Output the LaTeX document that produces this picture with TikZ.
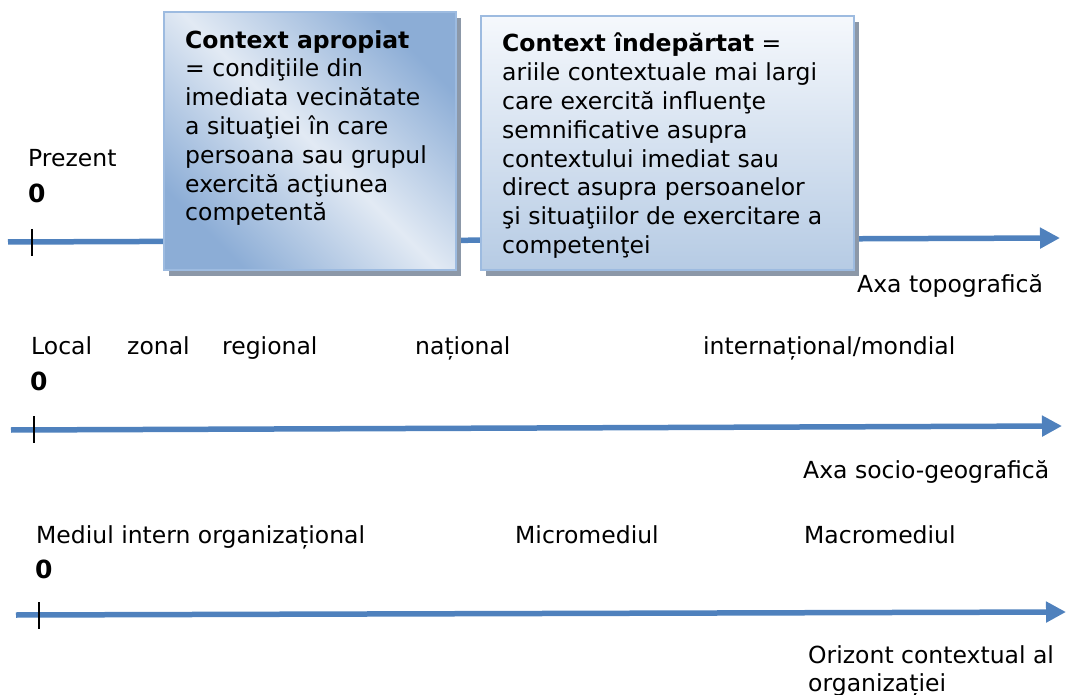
\documentclass[tikz,border=0pt]{standalone}
\usepackage{fontspec}
\setmainfont{DejaVu Sans}
\usepackage{xcolor}
\usetikzlibrary{arrows.meta,positioning,shadows}

\definecolor{axisblue}{HTML}{4F81BD}
\definecolor{boxedge}{HTML}{9DBBE0}
\definecolor{boxdark}{HTML}{8CADD6}
\definecolor{boxlight}{HTML}{E2EAF4}
\definecolor{boxtop}{HTML}{F5F8FC}
\definecolor{boxbottom}{HTML}{B6CBE4}
\definecolor{shadowgray}{HTML}{8C98A8}

\tikzset{
  axis/.style={line width=5.5pt, draw=axisblue, -{Triangle[length=20pt,width=20pt]}},
  zerotick/.style={line width=1.6pt, black},
  lbl/.style={anchor=base west, inner sep=0pt, font=\fontsize{23.5}{28.8}\selectfont},
  zero/.style={anchor=base west, inner sep=0pt, font=\fontsize{25}{30}\selectfont\bfseries},
  ctxbox/.style={draw=boxedge, line width=2pt, anchor=north west, inner sep=0pt,
    drop shadow={shadow xshift=5pt, shadow yshift=-6pt, fill=shadowgray, opacity=1}},
  boxtext/.style={anchor=north west, inner sep=0pt, align=left,
    font=\fontsize{23.5}{28.8}\selectfont}
}

\begin{document}
\begin{tikzpicture}[x=1pt,y=-1pt]
  \useasboundingbox (0,0) rectangle (1066,695);

  % Axa topografica
  \coordinate (t0) at (8,242);
  \coordinate (t1) at (1060,238);
  \draw[axis] (t0) -- (t1);
  \draw[zerotick] (32,229) -- (32,256);
  \node[lbl] (prezent) at (28,167) {Prezent};
  \node[zero] (zeroA) at (28,203) {0};
  \node[lbl] (axaA) at (857,292) {Axa topografică};

  % context boxes
  \node[ctxbox, minimum width=292pt, minimum height=258pt,
        left color=boxdark, right color=boxdark, middle color=boxlight,
        shading angle=-45] (near) at (163,11) {};
  \node[boxtext] (neartext) at (185,30)
    {\textbf{Context apropiat}\\= condiţiile din\\imediata vecinătate\\a situaţiei în care\\persoana sau grupul\\exercită acţiunea\\competentă};
  \node[ctxbox, minimum width=373pt, minimum height=254pt,
        top color=boxtop, bottom color=boxbottom] (far) at (480,15) {};
  \node[boxtext] (fartext) at (502,33)
    {\textbf{Context îndepărtat} =\\ariile contextuale mai largi\\care exercită influenţe\\semnificative asupra\\contextului imediat sau\\direct asupra persoanelor\\şi situaţiilor de exercitare a\\competenţei};

  % Axa socio-geografica
  \node[lbl] (local) at (31,354) {Local};
  \node[lbl] (zonal) at (127,354) {zonal};
  \node[lbl] (regional) at (222,354) {regional};
  \node[lbl] (national) at (415,354) {național};
  \node[lbl] (mondial) at (703,354) {internațional/mondial};
  \node[zero] (zeroB) at (30,390) {0};
  \coordinate (s0) at (11,430);
  \coordinate (s1) at (1062,426);
  \draw[axis] (s0) -- (s1);
  \draw[zerotick] (34,416) -- (34,443);
  \node[lbl] (axaB) at (803,478) {Axa socio-geografică};

  % Orizont contextual
  \node[lbl] (intern) at (36,543) {Mediul intern organizațional};
  \node[lbl] (micro) at (515,543) {Micromediul};
  \node[lbl] (macro) at (804,543) {Macromediul};
  \node[zero] (zeroC) at (35,578) {0};
  \coordinate (o0) at (16,615);
  \coordinate (o1) at (1066,612);
  \draw[axis] (o0) -- (o1);
  \draw[zerotick] (39,602) -- (39,629);
  \node[boxtext] (orizont) at (808,645) {Orizont contextual al\\organizației};
\end{tikzpicture}
\end{document}
